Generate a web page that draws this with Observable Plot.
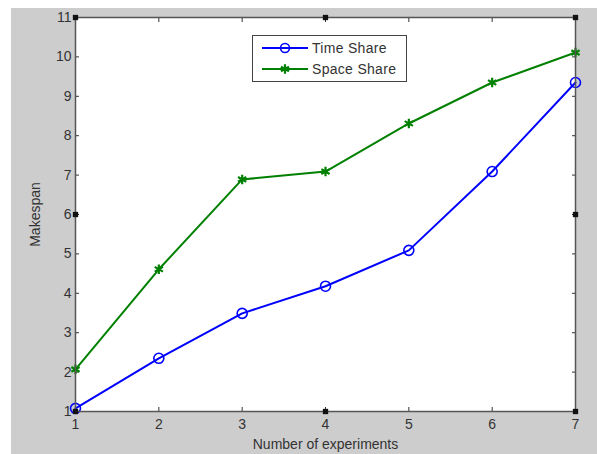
<!DOCTYPE html>
<html>
<head>
<meta charset="utf-8">
<script src="https://cdn.jsdelivr.net/npm/d3@7"></script>
<script src="https://cdn.jsdelivr.net/npm/@observablehq/plot@0.6"></script>
<style>
  html, body { margin: 0; padding: 0; background: #ffffff; width: 597px; height: 454px; overflow: hidden; }
  #wrap { position: absolute; left: 11px; top: 8px; }
  #legend { position: absolute; left: 252px; top: 35px; width: 153px; height: 45px; border: 1px solid #444; background: #fff;
            font-family: "Liberation Sans", Arial, sans-serif; font-size: 14px; color: #333; }
  .row { position: absolute; left: 0; height: 20px; display: flex; align-items: center; }
  .row svg { margin-left: 9px; }
  .row span { margin-left: 4px; letter-spacing: 0.3px; }
</style>
</head>
<body>
<div id="wrap"></div>
<div id="legend"></div>
<script>
// Data
const experiments = [1, 2, 3, 4, 5, 6, 7];
const timeShare  = [1.08, 2.35, 3.49, 4.18, 5.09, 7.09, 9.35];
const spaceShare = [2.07, 4.61, 6.89, 7.09, 8.31, 9.35, 10.11];
const seriesNames = ["Time Share", "Space Share"];
const xTicks = [1, 2, 3, 4, 5, 6, 7];
const yTicks = [1, 2, 3, 4, 5, 6, 7, 8, 9, 10, 11];
const handleX = [1, 4, 7, 1, 7, 1, 4, 7];
const handleY = [11, 11, 11, 6, 6, 1, 1, 1];

const blue = "#0000ff", green = "#008000";
const timeData = experiments.map((x, i) => ({x, y: timeShare[i]}));
const spaceData = experiments.map((x, i) => ({x, y: spaceShare[i]}));
const handles = handleX.map((x, i) => ({x, y: handleY[i]}));

const chart = Plot.plot({
  width: 586,
  height: 446,
  marginLeft: 64,
  marginRight: 22,
  marginTop: 9,
  marginBottom: 43,
  style: {background: "#cdcdcd", fontFamily: "'Liberation Sans', Arial, sans-serif", fontSize: "14px", color: "#333", overflow: "visible"},
  x: {domain: [1, 7]},
  y: {domain: [1, 11]},
  marks: [
    Plot.frame({fill: "white", stroke: null}),
    Plot.axisX({ticks: xTicks, anchor: "bottom", tickSize: -4, tickPadding: 12, tickFormat: d => String(d),
      label: "Number of experiments", labelAnchor: "center", labelArrow: "none", labelOffset: 37, fontSize: 14}),
    Plot.axisX({ticks: xTicks, anchor: "top", tickSize: -4, tickFormat: () => "", label: null}),
    Plot.axisY({ticks: yTicks, anchor: "left", tickSize: -4, tickPadding: 8, tickFormat: d => String(d),
      label: "Makespan", labelAnchor: "center", labelArrow: "none", labelOffset: 45, fontSize: 14}),
    Plot.axisY({ticks: yTicks, anchor: "right", tickSize: -4, tickFormat: () => "", label: null}),
    Plot.line(spaceData, {x: "x", y: "y", stroke: green, strokeWidth: 2}),
    Plot.dot(spaceData, {x: "x", y: "y", symbol: "asterisk", r: 4.5, stroke: green, strokeWidth: 2.2}),
    Plot.line(timeData, {x: "x", y: "y", stroke: blue, strokeWidth: 2}),
    Plot.dot(timeData, {x: "x", y: "y", symbol: "circle", r: 5, stroke: blue, fill: "none", strokeWidth: 1.6}),
    Plot.frame({stroke: "#555", strokeWidth: 1.5}),
    Plot.dot(handles, {x: "x", y: "y", symbol: "square", r: 3, fill: "#111", stroke: null})
  ]
});
document.getElementById("wrap").appendChild(chart);

// Legend
const legend = document.getElementById("legend");
const entries = [
  {name: seriesNames[0], color: blue, marker: "circle"},
  {name: seriesNames[1], color: green, marker: "asterisk"}
];
entries.forEach((e, i) => {
  const row = document.createElement("div");
  row.className = "row";
  row.style.top = (i === 0 ? 2 : 23) + "px";
  const svg = d3.create("svg").attr("width", 46).attr("height", 20);
  svg.append("line").attr("x1", 0).attr("x2", 46).attr("y1", 10).attr("y2", 10)
    .attr("stroke", e.color).attr("stroke-width", 2);
  if (e.marker === "circle") {
    svg.append("circle").attr("cx", 23).attr("cy", 10).attr("r", 4.5)
      .attr("fill", "none").attr("stroke", e.color).attr("stroke-width", 1.6);
  } else {
    svg.append("path").attr("transform", "translate(23,10)")
      .attr("d", d3.symbol(d3.symbolAsterisk, 60)())
      .attr("stroke", e.color).attr("stroke-width", 2.2).attr("fill", "none");
  }
  row.appendChild(svg.node());
  const span = document.createElement("span");
  span.textContent = e.name;
  row.appendChild(span);
  legend.appendChild(row);
});
</script>
</body>
</html>
